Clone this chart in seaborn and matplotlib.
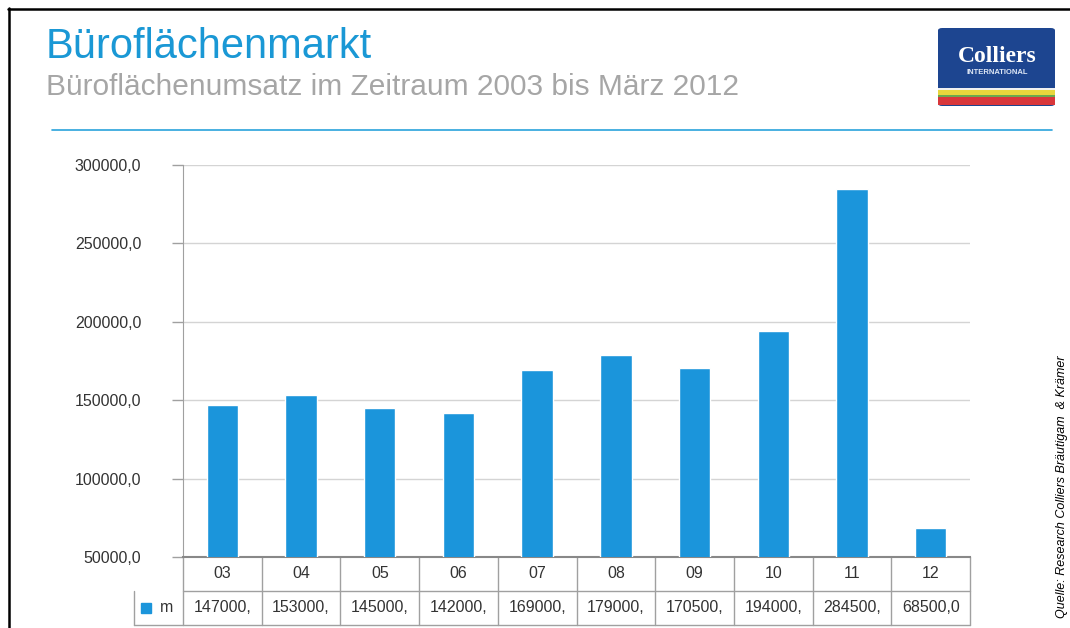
import matplotlib
matplotlib.use('Agg')
import matplotlib.pyplot as plt
import matplotlib.transforms as mtransforms
from matplotlib.patches import FancyBboxPatch, Rectangle
from matplotlib.lines import Line2D
from matplotlib.ticker import FuncFormatter
import seaborn as sns
import pandas as pd

# data
years = ['03', '04', '05', '06', '07', '08', '09', '10', '11', '12']
umsatz = [147000, 153000, 145000, 142000, 169000, 179000, 170500, 194000, 284500, 68500]
series_name = 'm'
y_ticks = [50000, 100000, 150000, 200000, 250000, 300000]

title = 'Büroflächenmarkt'
subtitle = 'Büroflächenumsatz im Zeitraum 2003 bis März 2012'
source = 'Quelle: Research Colliers Bräutigam  & Krämer'

bar_blue = '#1b95db'
title_blue = '#1a98d5'
grid_grey = '#d4d4d4'
table_grey = '#a0a0a0'

sns.set_style('white')
plt.rcParams['font.family'] = ['Liberation Sans', 'DejaVu Sans']

W, H = 1070, 628
fig = plt.figure(figsize=(W / 100, H / 100), dpi=100)

def px(x, y):
    return x / W, 1 - y / H

ax = fig.add_axes([183 / W, 1 - 557 / H, (970 - 183) / W, (557 - 165) / H])

df = pd.DataFrame({'year': years, 'value': umsatz})
sns.barplot(data=df, x='year', y='value', color=bar_blue, width=0.4,
            saturation=1, ax=ax, zorder=3)

ax.set_ylim(y_ticks[0], y_ticks[-1])
ax.set_xlim(-0.5, len(years) - 0.5)
ax.set_yticks(y_ticks)
ax.yaxis.set_major_formatter(FuncFormatter(lambda v, p: f'{v:.1f}'.replace('.', ',')))
ax.yaxis.grid(True, color=grid_grey, lw=1, zorder=0)
ax.set_xticks([])
ax.set_xlabel('')
ax.set_ylabel('')
ax.tick_params(axis='y', length=8, width=1, color=table_grey, pad=22,
               labelsize=11.5, labelcolor='#333333', left=True)
for s in ['top', 'right']:
    ax.spines[s].set_visible(False)
ax.spines['left'].set_color(table_grey)
ax.spines['bottom'].set_color('#888888')
ax.spines['bottom'].set_linewidth(1.5)

# data table below the axes
trans = mtransforms.blended_transform_factory(ax.transData, ax.transAxes)
row_h = 34 / (557 - 165)
n = len(years)
key_left = -0.5 - 49 / ((970 - 183) / n)
for i in range(n + 1):
    ax.add_line(Line2D([i - 0.5, i - 0.5], [0, -2 * row_h], transform=trans,
                       color=table_grey, lw=1, clip_on=False))
for k in (1, 2):
    ax.add_line(Line2D([key_left if k == 2 else -0.5, n - 0.5], [-k * row_h, -k * row_h],
                       transform=trans, color=table_grey, lw=1, clip_on=False))
ax.add_line(Line2D([key_left, key_left], [-row_h, -2 * row_h], transform=trans,
                   color=table_grey, lw=1, clip_on=False))
for i, (yr, v) in enumerate(zip(years, umsatz)):
    ax.text(i, -0.5 * row_h, yr, transform=trans, ha='center', va='center',
            fontsize=11.5, color='#333333')
    label = f'{v:.1f}'.replace('.', ',')[:7]
    ax.text(i, -1.5 * row_h, label, transform=trans, ha='center', va='center',
            fontsize=11.5, color='#333333')
ax.add_patch(Rectangle((key_left + 0.09, -1.5 * row_h - 0.012), 0.12, 0.024,
                       transform=trans, color=bar_blue, clip_on=False))
ax.text(key_left + 0.33, -1.5 * row_h, series_name, transform=trans, ha='left',
        va='center', fontsize=11.5, color='#333333')

# header
fig.text(*px(46, 47), title, fontsize=30, color=title_blue, ha='left', va='center')
fig.text(*px(46, 87), subtitle, fontsize=21.5, color='#a6a6a6', ha='left', va='center')
fig.add_artist(Line2D([52 / W, 1052 / W], [1 - 130 / H] * 2, color='#2aa3dc', lw=1.2))

# frame
fig.add_artist(Line2D([8 / W, 1], [1 - 9 / H] * 2, color='black', lw=1.8))
fig.add_artist(Line2D([9 / W, 9 / W], [0, 1 - 8 / H], color='black', lw=1.8))

# logo
lx0, ly0 = px(938, 106)
lw_, lh_ = 117 / W, 78 / H
fig.add_artist(FancyBboxPatch((lx0, ly0), lw_, lh_, boxstyle='round,pad=0,rounding_size=0.004',
                              fc='#1d4590', ec='none'))
for y0, hgt, c in [(97, 8, '#d8363a'), (95, 2, '#6aa84f'), (90, 5, '#e8d63c'), (88, 2, '#f0f0f0')]:
    fig.add_artist(Rectangle(px(938, y0 + hgt), lw_, hgt / H, fc=c, ec='none'))
fig.text(*px(997, 56), 'Colliers', fontsize=17, color='white', ha='center', va='center',
         family=['Liberation Serif'], weight='bold')
fig.text(*px(997, 73), 'INTERNATIONAL', fontsize=5.5, color='#dde6f5', ha='center', va='center',
         weight='bold')

# source
fig.text(*px(1062, 355), source, rotation=90, rotation_mode='anchor', ha='right',
         va='center', fontsize=9, style='italic', color='black')

fig.savefig('out.png', dpi=100)
